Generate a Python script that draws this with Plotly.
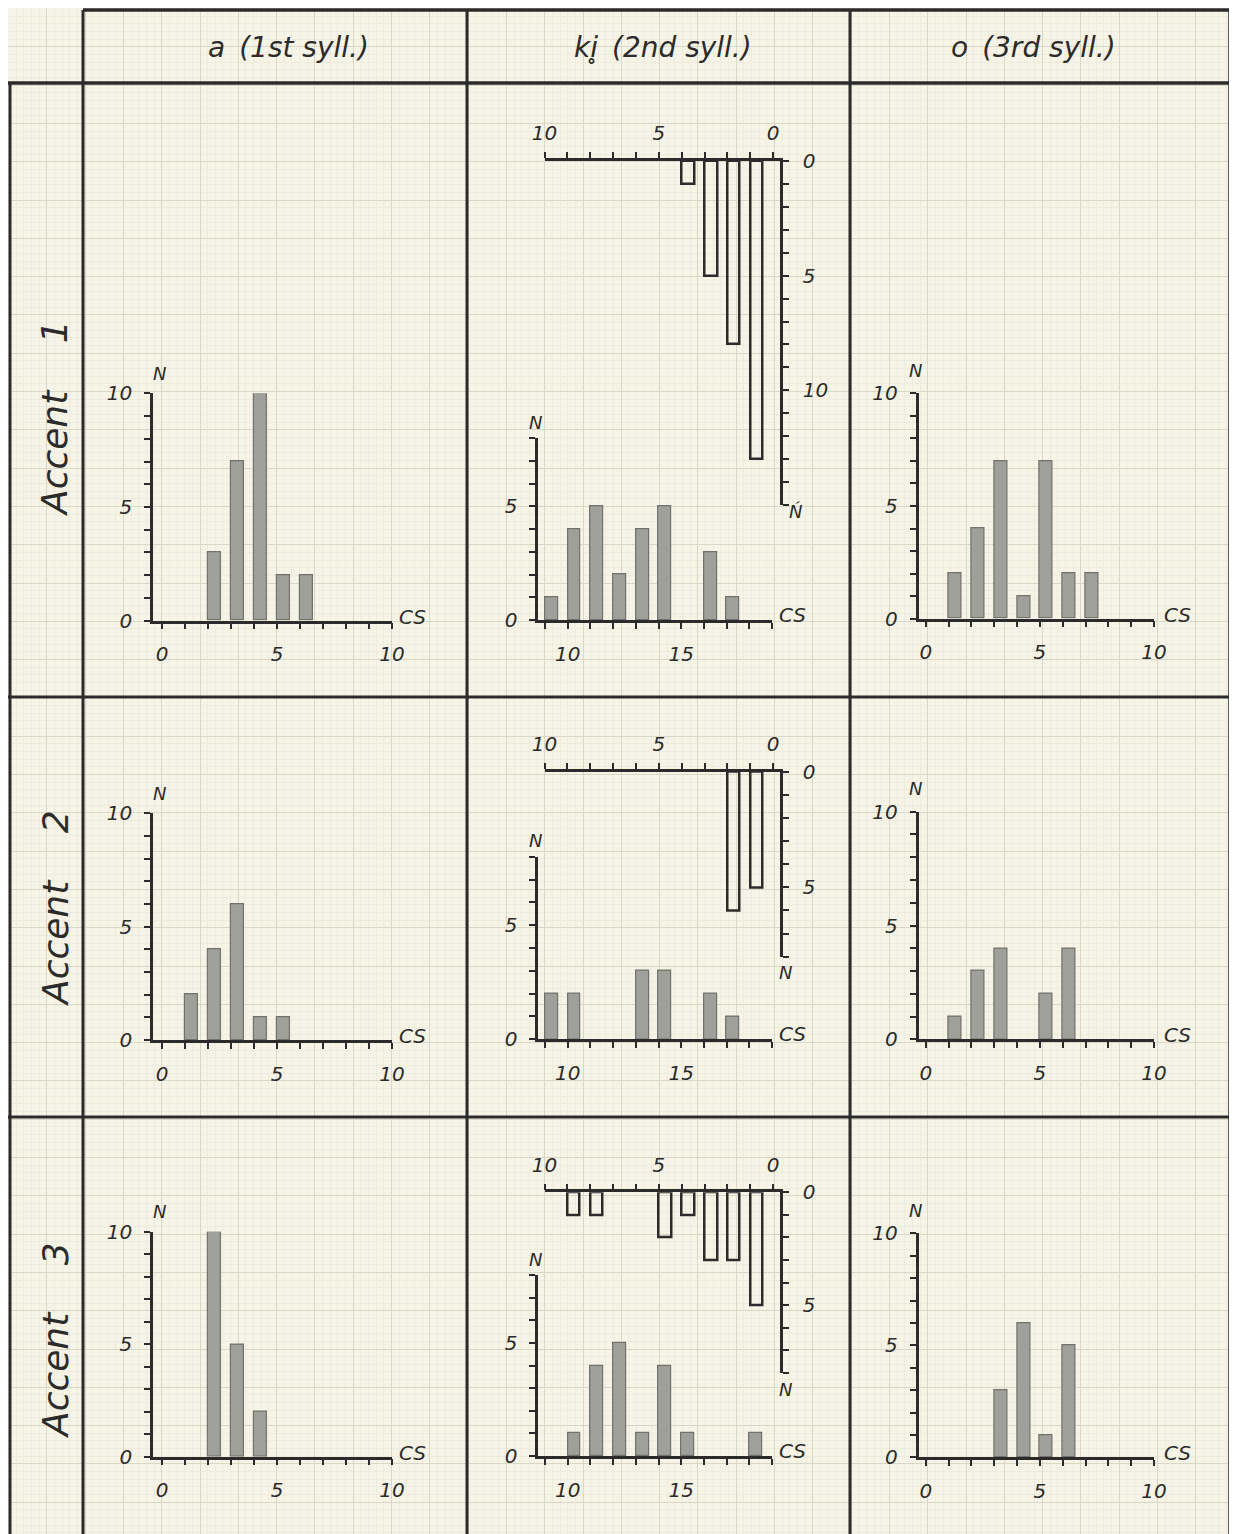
import plotly.graph_objects as go

W, H = 1237, 1534
OFF = 8  # page body margin: figure is drawn 8 px right/down of the window origin

# ---------------- data ----------------
col_titles = ["a\u2002(1st syll.)", "ki\u0325\u2002(2nd syll.)", "o\u2002(3rd syll.)"]
row_titles = ["Accent\u2003 1", "Accent\u2003 2", "Accent\u2003 3"]

# column 1: vowel a (1st syllable), duration in cs -> count N
a_cs = [[2, 3, 4, 5, 6], [1, 2, 3, 4, 5], [2, 3, 4]]
a_n = [[3, 7, 10, 2, 2], [2, 4, 6, 1, 1], [10, 5, 2]]

# column 2: ki (2nd syllable) lower histogram
ki_cs = [[9, 10, 11, 12, 13, 14, 16, 17], [9, 10, 13, 14, 16, 17], [10, 11, 12, 13, 14, 15, 18]]
ki_n = [[1, 4, 5, 2, 4, 5, 3, 1], [2, 2, 3, 3, 2, 1], [1, 4, 5, 1, 4, 1, 1]]

# column 2: inverted (hanging) histogram on reversed scale
ki_top_cs = [[4, 3, 2, 1], [2, 1], [9, 8, 5, 4, 3, 2, 1]]
ki_top_n = [[1, 5, 8, 13], [6, 5], [1, 1, 2, 1, 3, 3, 5]]
ki_top_nmax = [15, 8, 8]
ki_top_nlabel = ["N\u0301", "N", "N"]

# column 3: vowel o (3rd syllable)
o_cs = [[1, 2, 3, 4, 5, 6, 7], [1, 2, 3, 5, 6], [3, 4, 5, 6]]
o_n = [[2, 4, 7, 1, 7, 2, 2], [1, 3, 4, 2, 4], [3, 6, 1, 5]]

# tick labels shown
cs_labels = [0, 5, 10]
ki_cs_labels = [10, 15]
n_labels = [0, 5, 10]

# ---------------- style ----------------
INK = "#2b2b2b"
PAPER = "#f6f4e6"
BAR_FILL = "#a0a09b"
BAR_LINE = "#72726d"
FONT = "DejaVu Sans"
TICK_FONT = dict(family=FONT, size=20, color=INK, style="italic")


def px(x):
    return (x - OFF) / W


def py(y):
    return 1 - (y - OFF) / H


def labels(vals, shown):
    return [str(v) if v in shown else "" for v in vals]


fig = go.Figure()
layout = {}
annotations = []

# background graph paper (axis 1), in window pixels
fig.add_trace(go.Scatter(x=[None], y=[None], xaxis="x", yaxis="y",
                         showlegend=False, hoverinfo="skip"))
grid_common = dict(domain=[0, 1], showgrid=True, gridcolor="#d9d7c6", gridwidth=1,
                   tick0=8.5, dtick=38.3, showticklabels=False, ticks="",
                   zeroline=False, showline=False, fixedrange=True, automargin=False,
                   minor=dict(showgrid=True, dtick=38.3 / 5, tick0=8.5,
                              gridcolor="#eeecdc", gridwidth=1))
layout["xaxis"] = dict(grid_common, range=[OFF, W + OFF])
layout["yaxis"] = dict(grid_common, range=[H + OFF, OFF])

axis_common = dict(showline=True, linecolor=INK, linewidth=2.5, ticks="outside",
                   ticklen=6, tickwidth=2, tickcolor=INK, showgrid=False,
                   zeroline=False, tickfont=TICK_FONT, fixedrange=True,
                   tickmode="array", automargin=False)

# geometry (window pixels)
left_y = [(393.3, 620.7), (813.3, 1040.0), (1231.7, 1456.7)]
right_y = [(393.3, 618.7), (811.7, 1039.3), (1233.3, 1457.3)]
midlow_y = [(438.3, 620.0), (856.7, 1039.3), (1275.0, 1456.0)]
midup_y = [(161.0, 505.0), (771.7, 956.7), (1192.3, 1373.0)]

ax_id = [2]


def new_axes():
    i = ax_id[0]
    ax_id[0] += 1
    return i


def add_upright(cs, n, xdom, ydom, xrange, xt, xshown, yt, ymax, n_shift, cs_shift):
    i = new_axes()
    fig.add_trace(go.Bar(x=cs, y=n, xaxis=f"x{i}", yaxis=f"y{i}",
                         width=0.57, offset=0,
                         marker=dict(color=BAR_FILL, line=dict(color=BAR_LINE, width=1.2)),
                         showlegend=False, hoverinfo="skip"))
    layout[f"xaxis{i}"] = dict(axis_common, domain=[px(xdom[0]), px(xdom[1])],
                               range=xrange, anchor=f"y{i}", tickvals=xt,
                               ticktext=labels(xt, xshown), ticklabelstandoff=8)
    layout[f"yaxis{i}"] = dict(axis_common, domain=[py(ydom[1]), py(ydom[0])],
                               range=[0, ymax], anchor=f"x{i}", tickvals=yt,
                               ticktext=labels(yt, n_labels), ticklabelstandoff=8)
    annotations.append(dict(text="N", x=xrange[0], y=ymax, xref=f"x{i}", yref=f"y{i}",
                            xanchor="center", yanchor="middle",
                            xshift=n_shift[0], yshift=n_shift[1], showarrow=False,
                            font=dict(family=FONT, size=18, color=INK, style="italic")))
    annotations.append(dict(text="CS", x=xrange[1], y=0, xref=f"x{i}", yref=f"y{i}",
                            xanchor="center", yanchor="middle",
                            xshift=cs_shift[0], yshift=cs_shift[1], showarrow=False,
                            font=dict(family=FONT, size=20, color=INK, style="italic")))


def add_hanging(cs, n, xdom, ydom, nmax, nlabel, nshift):
    i = new_axes()
    fig.add_trace(go.Bar(x=cs, y=n, xaxis=f"x{i}", yaxis=f"y{i}",
                         width=0.55, offset=-0.55,
                         marker=dict(color="rgba(0,0,0,0)", line=dict(color=INK, width=2.5)),
                         showlegend=False, hoverinfo="skip"))
    xt = list(range(0, 11))
    yt = list(range(0, nmax + 1))
    layout[f"xaxis{i}"] = dict(axis_common, domain=[px(xdom[0]), px(xdom[1])],
                               range=[10, -0.3], anchor=f"y{i}", side="top",
                               tickvals=xt, ticktext=labels(xt, cs_labels), ticklabelstandoff=4)
    layout[f"yaxis{i}"] = dict(axis_common, domain=[py(ydom[1]), py(ydom[0])],
                               range=[nmax, 0], anchor=f"x{i}", side="right",
                               tickvals=yt, ticktext=labels(yt, n_labels), ticklabelstandoff=10)
    annotations.append(dict(text=nlabel, x=-0.3, y=nmax, xref=f"x{i}", yref=f"y{i}",
                            xanchor="center", yanchor="middle",
                            xshift=nshift[0], yshift=nshift[1], showarrow=False,
                            font=dict(family=FONT, size=18, color=INK, style="italic")))


ticks10 = list(range(0, 11))
for r in range(3):
    # column 1
    add_upright(a_cs[r], a_n[r], (153, 392), left_y[r], [-0.4, 10], ticks10, cs_labels,
                ticks10, 10, (6, 20), (20, 4))
    # column 2 lower
    add_upright(ki_cs[r], ki_n[r], (538.2, 772), midlow_y[r], [8.7, 19],
                list(range(9, 20)), ki_cs_labels, list(range(0, 9)), 8, (-3, 16), (20, 5))
    # column 2 upper (hanging)
    nsh = (15, -7) if r == 0 else (5, -16)
    add_hanging(ki_top_cs[r], ki_top_n[r], (544.5, 780), midup_y[r], ki_top_nmax[r],
                ki_top_nlabel[r], nsh)
    # column 3
    add_upright(o_cs[r], o_n[r], (918.5, 1154), right_y[r], [-0.32, 10], ticks10, cs_labels,
                ticks10, 10, (-3, 23), (23, 4))

# headers
for x, t in zip([288, 663, 1033], col_titles):
    annotations.append(dict(text=t, x=px(x), y=py(48), xref="paper", yref="paper",
                            xanchor="center", yanchor="middle", showarrow=False,
                            font=dict(family=FONT, size=28, color=INK, style="italic")))
for y, t in zip([418, 908, 1340], row_titles):
    annotations.append(dict(text=t, x=px(55), y=py(y), xref="paper", yref="paper",
                            xanchor="center", yanchor="middle",
                            showarrow=False, textangle=-90,
                            font=dict(family=FONT, size=36, color=INK, style="italic")))

# table frame
shapes = []


def hline(y, x0, x1, w=3):
    shapes.append(dict(type="line", xref="paper", yref="paper", x0=px(x0), x1=px(x1),
                       y0=py(y), y1=py(y), line=dict(color=INK, width=w), layer="above"))


def vline(x, y0, y1, w=3):
    shapes.append(dict(type="line", xref="paper", yref="paper", x0=px(x), x1=px(x),
                       y0=py(y0), y1=py(y1), line=dict(color=INK, width=w), layer="above"))


hline(10, 83, 1232, 3.5)
hline(83, 8, 1232, 3.5)
hline(697, 8, 1232, 3)
hline(1117, 8, 1232, 3)
vline(83, 10, 1542, 3)
vline(467, 10, 1542, 3)
vline(850, 10, 1542, 3)
vline(1230, 10, 1542, 3.5)
vline(10, 83, 1542, 3)

fig.update_layout(layout)
fig.update_layout(width=W, height=H, margin=dict(l=0, r=0, t=0, b=0, pad=0, autoexpand=False),
                  paper_bgcolor=PAPER, plot_bgcolor="rgba(0,0,0,0)",
                  showlegend=False, annotations=annotations, shapes=shapes,
                  font=dict(family=FONT, color=INK, style="italic"), bargap=0)

fig.write_html("out.html")
